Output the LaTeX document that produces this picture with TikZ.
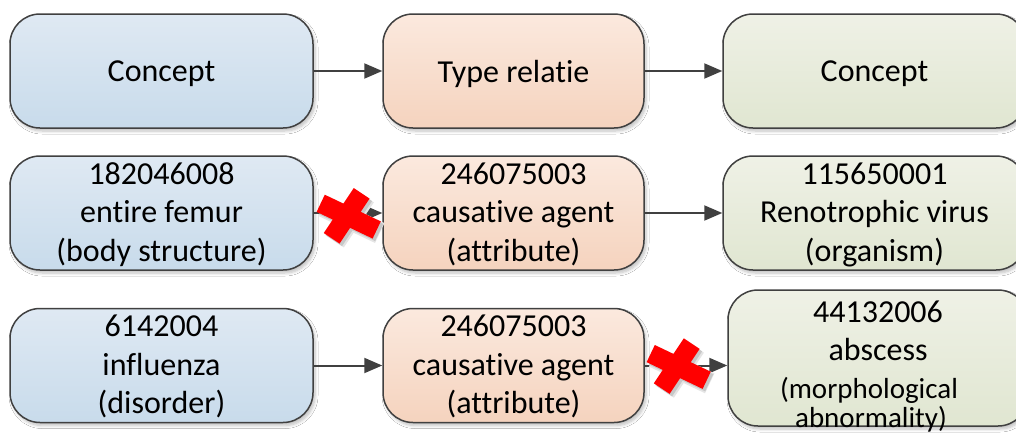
\documentclass[tikz,border=0pt]{standalone}
\usepackage{fontspec}
\setmainfont{Carlito}[Ligatures={NoCommon}, RawFeature=-liga, RawFeature=-clig, RawFeature=-calt]
\usetikzlibrary{arrows.meta,shadows.blur}

\definecolor{edge}{HTML}{404040}
\definecolor{bluetop}{HTML}{DFE9F3}
\definecolor{bluebot}{HTML}{C8DBEB}
\definecolor{orangetop}{HTML}{FBE9DE}
\definecolor{orangebot}{HTML}{F5D3BE}
\definecolor{greentop}{HTML}{EFF1E6}
\definecolor{greenbot}{HTML}{E0E6D1}
\definecolor{crossred}{HTML}{FF0000}

\tikzset{
  box/.style={draw=edge, line width=1.5pt, rounded corners=30pt,
    minimum height=114pt, inner sep=0pt, align=center,
    font=\fontsize{32}{38.5}\selectfont, text depth=2pt,
    blur shadow={shadow xshift=2pt, shadow yshift=-3pt,
      shadow blur radius=3pt, shadow blur steps=6, shadow opacity=25}},
  bluebox/.style={box, minimum width=303pt, top color=bluetop, bottom color=bluebot},
  relbox/.style={box, minimum width=261pt, top color=orangetop, bottom color=orangebot},
  greenbox/.style={box, minimum width=303pt, top color=greentop, bottom color=greenbot},
  oneline/.style={text depth=0pt},
  link/.style={draw=edge, line width=2pt, -{Triangle[length=18pt,width=15pt]}},
  bigtext/.style={font=\fontsize{32}{38.5}\selectfont, inner sep=0pt, anchor=base},
  smalltext/.style={font=\fontsize{29}{29}\selectfont, inner sep=0pt, anchor=base},
  cross/.pic={
    \draw[line width=22pt, black!10] (-23,-9.4) -- (33,17.3) (18,-19.4) -- (-12,25.6);
    \draw[line width=19pt, black!22] (-23.5,-9.9) -- (32.5,16.8) (17.5,-19.9) -- (-12.5,25.1);
    \draw[line width=19pt, crossred] (-26,-12.4) -- (30,14.3) (15,-22.4) -- (-15,22.6);
  }
}

\begin{document}
\begin{tikzpicture}[x=1pt,y=-1pt]
\clip (0,0) rectangle (1016,434);
\fill[white] (0,0) rectangle (1016,434);

% header row
\node[bluebox, oneline]  (c1) at (161.5,71) {Concept};
\node[relbox, oneline]   (r1) at (513.5,71) {Type relatie};
\node[greenbox, oneline] (d1) at (874.5,71) {Concept};

% first example
\node[bluebox]  (c2) at (161.5,213) {182046008\\entire femur\\(body structure)};
\node[relbox]   (r2) at (513.5,213) {246075003\\causative agent\\(attribute)};
\node[greenbox] (d2) at (874.5,213) {115650001\\Renotrophic virus\\(organism)};

% second example
\node[bluebox]  (c3) at (161.5,365.5) {6142004\\influenza\\(disorder)};
\node[relbox]   (r3) at (513.5,365.5) {246075003\\causative agent\\(attribute)};
\node[greenbox, minimum width=300pt, minimum height=136pt] (d3) at (878,358) {};
\node[bigtext]   (d3a) at (878,322) {44132006};
\node[bigtext]   (d3b) at (878,360) {abscess};
\node[smalltext] (d3c) at (869,398) {(morphological};
\node[smalltext] (d3d) at (871,427) {abnormality)};

% relations
\draw[link] (c1.east) -- (r1.west);
\draw[link] (r1.east) -- (d1.west);
\draw[link] (c2.east) -- (r2.west);
\draw[link] (r2.east) -- (d2.west);
\draw[link] (c3.east) -- (r3.west);
\draw[link] (r3.east) -- (r3.east -| d3.west);

% rejected relations
\pic (x2) at (346.7,215.7) {cross};
\pic (x3) at (676.7,366) {cross};
\end{tikzpicture}
\end{document}
